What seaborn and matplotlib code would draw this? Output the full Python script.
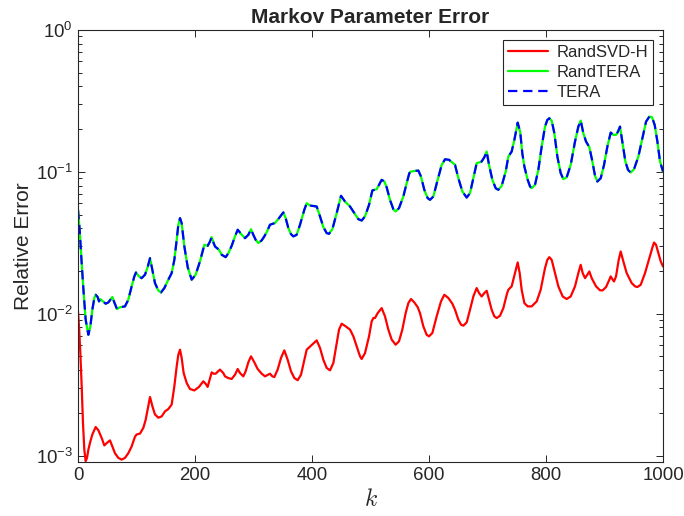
import numpy as np
import pandas as pd
import seaborn as sns
import matplotlib
matplotlib.use("Agg")
import matplotlib.pyplot as plt
from matplotlib.ticker import LogLocator, NullFormatter, FixedLocator

# ---- data ----
k_tera = [0, 2.85, 6.27, 9.68, 13.1, 17.66, 21.1, 24.5, 27.9, 30.2, 33.6, 35.9, 38.2, 42.7,
          47.3, 51.9, 55.3, 58.7, 62.1, 66.7, 71.2, 80.3, 86.0, 91.7, 96.3, 99.1, 104.3,
          108.8, 114.5, 119.1, 123.1, 127.1, 131.6, 137.3, 141.9, 147.6, 154.4, 160.1,
          164.7, 168.7, 171.5, 174.4, 177.2, 181.8, 187.5, 194.3, 201.1, 208.5, 216.0,
          221.7, 225.6, 228.5, 231.9, 234.2, 241.0, 245.6, 252.4,
          257.0, 262.7, 268.4, 273.0, 278.6, 285.5, 291.2, 295.7, 299.7, 303.7, 308.3,
          314.0, 318.5, 323.1, 328.2, 336.8, 343.6, 351.0, 355.0, 359.6, 364.1, 368.1,
          373.8, 379.5, 386.9, 390.9, 396.6, 400.6, 408.0, 413.7, 419.4, 425.1, 429.1,
          434.8, 442.2, 449.6, 456.4, 465.0, 472.4, 479.2, 484.9, 490.6, 497.5, 503.2,
          510.6, 514.5, 519.1,
          523.7, 527.6, 533.3, 539.0, 543.0, 548.7, 556.1, 561.8, 566.4, 569.2, 576.1,
          581.8, 586.3, 592.0, 597.7, 601.7, 607.4, 614.8, 621.7, 627.4, 634.2, 639.9,
          644.5, 650.2, 657.0, 664.4, 670.1, 675.8, 681.5, 685.5, 690.0, 694.6, 698.6,
          702.6, 708.3, 714.0, 718.5, 724.2, 731.1, 735.6, 741.3, 745.9, 751.6, 756.0,
          759.5, 763.0, 768.7, 772.7,
          775.5, 781.2, 786.9, 792.6, 798.3, 802.3, 805.7, 809.7, 814.3, 819.4, 825.1,
          829.7, 835.4, 842.2, 849.6, 855.3, 859.3, 863.9, 868.4, 874.1, 878.7, 883.8,
          887.8, 893.5, 899.2, 904.9, 910.6, 915.1, 919.7, 923.1, 926.5, 930.5, 935.7,
          940.2, 944.8, 950.5, 957.9, 965.3, 971.0, 976.7, 981.2, 985.8, 990.4, 994.9,
          1000]
err_tera = [0.0540, 0.0391, 0.0228, 0.0140, 0.00908, 0.00711, 0.00815, 0.01067, 0.01291,
            0.01361, 0.01312, 0.01222, 0.01268, 0.01222, 0.01177, 0.01202, 0.01256,
            0.01312, 0.01202, 0.01079, 0.01109, 0.01127, 0.01256, 0.01560, 0.01833,
            0.01954, 0.01833, 0.01782, 0.01884, 0.02133, 0.02466, 0.02042, 0.01644,
            0.01459, 0.01413, 0.01517, 0.01738, 0.01933, 0.02399, 0.03319, 0.04236,
            0.04721, 0.04355, 0.02979, 0.02133, 0.01738, 0.01884, 0.02339, 0.03062,
            0.03013, 0.03229, 0.03467, 0.03148, 0.02979, 0.02825, 0.02606, 0.02506,
            0.0267, 0.0301, 0.0351, 0.0391, 0.0366, 0.0341, 0.0360, 0.0394, 0.0360,
            0.0332, 0.0315, 0.0329, 0.0351, 0.0380, 0.0424, 0.0436, 0.0472, 0.0518,
            0.0472, 0.0401, 0.0364, 0.0351, 0.0360, 0.0424, 0.0541, 0.0601, 0.0579,
            0.0576, 0.0570, 0.0485, 0.0408, 0.0370, 0.0366, 0.0394, 0.0512, 0.0678,
            0.0618, 0.0570, 0.0512, 0.0464, 0.0454, 0.0485, 0.0586, 0.0740, 0.0755,
            0.0810, 0.0879,
            0.0855, 0.0780, 0.0635, 0.0546, 0.0526, 0.0555, 0.0670, 0.0832, 0.0980,
            0.1005, 0.1016, 0.1021, 0.0927, 0.0747, 0.0653, 0.0635, 0.0670, 0.0879,
            0.1120, 0.1227, 0.1216, 0.1164, 0.1120, 0.0902, 0.0728, 0.0659, 0.0708,
            0.0902, 0.1151, 0.1164, 0.1183, 0.1268, 0.1390, 0.1120, 0.0879, 0.0767,
            0.0747, 0.0796, 0.1005, 0.1282, 0.1390, 0.1679, 0.2223, 0.1900, 0.1352,
            0.1091, 0.0879, 0.0789,
            0.0767, 0.0810, 0.1033, 0.1507, 0.2085, 0.2323, 0.2388, 0.2298, 0.1871,
            0.1282, 0.0980, 0.0888, 0.0917, 0.1120, 0.1637, 0.2085, 0.2298, 0.1871,
            0.1637, 0.1493, 0.1216, 0.0938, 0.0855, 0.0902, 0.1120, 0.1507, 0.1892,
            0.1823, 0.1823, 0.1923, 0.2085, 0.1637, 0.1183, 0.1033, 0.0989, 0.1045,
            0.1282, 0.1774, 0.2259, 0.2455, 0.2427, 0.2143, 0.1637, 0.1183, 0.1005]
err_randtera = list(err_tera)

k_svd = [0, 1.7, 4.0, 6.3, 8.5, 10.8, 13.1, 15.4, 17.7, 20.5, 24.5, 30.2, 34.8, 40.5,
         45.0, 49.6, 54.7, 58.7, 63.2, 68.9, 74.6, 80.3, 86.0, 91.7, 97.4, 100.3, 106.0,
         111.7, 115.7, 120.2, 123.1, 127.1, 131.6, 137.3, 143.0, 148.7, 154.4, 160.1,
         164.7, 168.7, 171.5, 174.4, 177.2, 180.6, 185.8, 191.4, 198.9, 206.8, 214.2,
         218.2, 221.6, 225.1, 228.5, 231.9, 235.3, 242.7, 248.4,
         251.3, 257.0, 262.7, 268.4, 273.0, 276.9, 282.6, 286.6, 291.2, 295.7, 301.4,
         307.1, 314.0, 319.7, 324.2, 328.2, 332.2, 335.6, 341.3, 347.0, 352.7, 358.4,
         364.1, 369.8, 375.5, 381.2, 386.9, 390.9, 398.3, 408.0, 413.7, 419.4, 425.1,
         430.8, 436.5, 442.2, 446.2, 450.7, 457.6, 465.0, 470.7, 476.4, 482.1, 484.9,
         490.6, 497.5, 502.0, 504.9,
         507.7, 512.3, 519.1, 524.8, 530.5, 536.2, 543.0, 548.7, 554.4, 560.1, 564.7,
         569.2, 574.9, 580.6, 584.6, 590.3, 596.0, 600.0, 605.7, 613.1, 620.5, 626.2,
         633.1, 639.9, 644.5, 650.2, 654.7, 658.7, 664.4, 670.1, 675.8, 681.5, 685.5,
         690.0, 694.6, 698.6, 702.6, 707.1, 711.7, 715.7, 721.4, 727.1, 732.8, 735.6,
         741.3, 747.0, 751.6, 755.0, 758.4, 763.0, 768.7,
         775.5, 784.1, 790.9, 798.3, 802.3, 805.7, 809.7, 815.4, 821.1, 828.5, 835.4,
         842.2, 849.6, 855.3, 859.3, 862.7, 866.7, 870.7, 874.1, 878.1, 885.5, 892.4,
         896.9, 902.6, 908.3, 910.6, 914.0, 916.3, 919.7, 924.3, 927.7, 932.2, 937.9,
         946.5, 952.2, 956.2, 961.9, 969.3, 976.7, 982.4, 984.7, 988.1, 992.1, 996.1,
         1000]
err_svd = [0.01040, 0.00815, 0.00529, 0.00308, 0.00170, 0.00110, 0.000914, 0.000964,
           0.00110, 0.00123, 0.00141, 0.00159, 0.00151, 0.00133, 0.00118, 0.00123,
           0.00128, 0.00116, 0.00104, 0.000964, 0.000937, 0.000964, 0.00104, 0.00116,
           0.00136, 0.00141, 0.00143, 0.00157, 0.00179, 0.00223, 0.00259, 0.00223,
           0.00195, 0.00185, 0.00189, 0.00205, 0.00213, 0.00229, 0.00308, 0.00426,
           0.00514, 0.00558, 0.00488, 0.00382, 0.00325, 0.00295, 0.00288, 0.00305,
           0.00334, 0.00321, 0.00305, 0.00343, 0.00386, 0.00378, 0.00378, 0.00404,
           0.00382,
           0.00362, 0.00352, 0.00347, 0.00372, 0.00408, 0.00382, 0.00362, 0.00393,
           0.00455, 0.00501, 0.00455, 0.00408, 0.00378, 0.00362, 0.00370, 0.00378,
           0.00362, 0.00358, 0.00404, 0.00488, 0.00552, 0.00474, 0.00393, 0.00352,
           0.00340, 0.00372, 0.00474, 0.00558, 0.00596, 0.00649, 0.00574, 0.00474,
           0.00415, 0.00399, 0.00450, 0.00622, 0.00773, 0.00851, 0.00815, 0.00773,
           0.00693, 0.00589, 0.00501, 0.00480, 0.00528, 0.00693, 0.00883, 0.00933,
           0.00933, 0.01011, 0.01096, 0.00958, 0.00773, 0.00657, 0.00605, 0.00639,
           0.00773, 0.01011, 0.01189, 0.01270, 0.01202, 0.01114, 0.01011, 0.00815,
           0.00711, 0.00693, 0.00731, 0.00958, 0.01222, 0.01361, 0.01291, 0.01177,
           0.01067, 0.00908, 0.00838, 0.00824, 0.00869, 0.01067, 0.01324, 0.01517,
           0.01400, 0.01324, 0.01400, 0.01452, 0.01256, 0.01067, 0.00958, 0.00933,
           0.00968, 0.01096, 0.01361, 0.01476, 0.01560, 0.01936, 0.02301, 0.01936,
           0.01476, 0.01189, 0.01127,
           0.01127, 0.01222, 0.01476, 0.02099, 0.02399, 0.02506, 0.02399, 0.01936,
           0.01560, 0.01324, 0.01270, 0.01324, 0.01560, 0.01936, 0.02213, 0.01936,
           0.01782, 0.01884, 0.01986, 0.01782, 0.01560, 0.01462, 0.01462, 0.01542,
           0.01738, 0.01833, 0.01738, 0.01690, 0.01833, 0.02399, 0.02748, 0.02339,
           0.01936, 0.01644, 0.01560, 0.01542, 0.01600, 0.01936, 0.02466, 0.02979,
           0.03177, 0.03062, 0.02673, 0.02339, 0.02153]

x_ticks = [0, 200, 400, 600, 800, 1000]
y_ticks = [1e-3, 1e-2, 1e-1, 1e0]

# ---- styling ----
sns.set_theme(style="white")
plt.rcParams["font.family"] = ["Liberation Sans", "DejaVu Sans"]
plt.rcParams["mathtext.fontset"] = "cm"
plt.rcParams["mathtext.default"] = "regular"

fig = plt.figure(figsize=(6.84, 5.16), dpi=100)
ax = fig.add_axes([78/684, 1-462/516, (663-78)/684, (462-30)/516])

df_svd = pd.DataFrame({"k": k_svd, "err": err_svd})
df_rt = pd.DataFrame({"k": k_tera, "err": err_randtera})
df_t = pd.DataFrame({"k": k_tera, "err": err_tera})

sns.lineplot(data=df_svd, x="k", y="err", ax=ax, color="#ff0000", lw=1.6, label="RandSVD-H")
sns.lineplot(data=df_rt, x="k", y="err", ax=ax, color="#00ff00", lw=1.6, label="RandTERA")
sns.lineplot(data=df_t, x="k", y="err", ax=ax, color="#0000ff", lw=1.6, label="TERA")
ax.lines[2].set_dashes((4.2, 2.6))
for ln in ax.lines:
    ln.set_solid_joinstyle("round")
    ln.set_dash_joinstyle("round")

ax.set_yscale("log")
ax.set_xlim(0, 1000)
ax.set_ylim(10**-3.045, 1)
ax.set_xticks(x_ticks)
ax.set_xticklabels([str(t) for t in x_ticks])
ax.yaxis.set_major_locator(FixedLocator(y_ticks))
minor_vals = [m * d for d in [1e-4, 1e-3, 1e-2, 1e-1] for m in range(2, 10)]
ax.yaxis.set_minor_locator(FixedLocator(minor_vals))
ax.yaxis.set_minor_formatter(NullFormatter())

ax.tick_params(axis="both", which="major", direction="in", top=True, right=True,
               left=True, bottom=True, colors="#262626", labelsize=13.4,
               length=5, width=0.7)
ax.tick_params(axis="y", which="minor", direction="in", length=3.2, width=0.7,
               left=True, right=True, color="#262626")
ax.tick_params(axis="x", which="minor", bottom=False, top=False)
for s in ax.spines.values():
    s.set_color("#262626")
    s.set_linewidth(0.8)

ax.set_title("Markov Parameter Error", fontsize=15, fontweight="bold", pad=5)
ax.set_xlabel(r"$\mathit{k}$", fontsize=17, labelpad=4)
ax.set_ylabel("Relative Error", fontsize=15, labelpad=2, color="#262626")

leg = ax.legend(loc="upper right", fontsize=12, frameon=True, fancybox=False,
                edgecolor="#262626", framealpha=1, handlelength=2.4, borderpad=0.3,
                labelspacing=0.3, handletextpad=0.5, borderaxespad=0.6)
leg.get_frame().set_linewidth(0.8)

fig.savefig("out.png", dpi=100)
